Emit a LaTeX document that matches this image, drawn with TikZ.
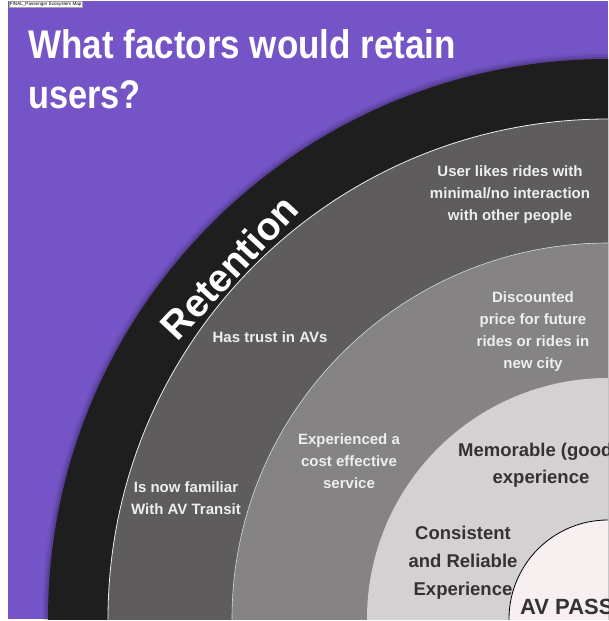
\documentclass[tikz,border=0pt]{standalone}
\usepackage{fontspec}
\setmainfont{Liberation Sans}
\definecolor{bgpurple}{RGB}{116,84,198}
\definecolor{ringblack}{RGB}{30,30,30}
\definecolor{ringdark}{RGB}{94,92,93}
\definecolor{ringmid}{RGB}{133,131,132}
\definecolor{ringlight}{RGB}{211,209,210}
\definecolor{corepink}{RGB}{247,239,240}
\definecolor{lighttext}{RGB}{238,238,238}
\definecolor{darktext}{RGB}{52,50,51}
\begin{document}
\begin{tikzpicture}[x=1pt,y=-1pt,
  lbl/.style={font=\bfseries\fontsize{15}{22}\selectfont, text=lighttext, align=center, inner sep=0pt},
  dlbl/.style={font=\bfseries\fontsize{18.5}{28}\selectfont, text=darktext, align=center, inner sep=0pt},
  titletext/.style={font=\bfseries\fontsize{40}{46}\selectfont, text=white, anchor=base west, inner sep=0pt},
]
\useasboundingbox (0,0) rectangle (609,621);
\coordinate (hub) at (608,619);
% panel background
\fill[bgpurple] (8,1) rectangle (608,619);
\begin{scope}
  \clip (8,1) rectangle (608,619);
  % soft edge of the outer ring
  \foreach \w/\o in {6/0.05,4/0.08,2/0.12}
    \fill[black, opacity=\o] (hub) circle[radius=560+\w];
  % concentric rings around the lower right corner
  \fill[ringblack] (hub) circle[radius=560];
  \fill[ringdark] (hub) circle[radius=500];
  \draw[white!85!gray, line width=0.8pt] (hub) circle[radius=500];
  \fill[ringmid] (hub) circle[radius=376];
  \draw[white!70!gray, line width=0.6pt] (hub) circle[radius=376];
  \fill[ringlight] (hub) circle[radius=241];
  \fill[corepink] (hub) circle[radius=99];
  \draw[black, line width=0.8pt] (hub) circle[radius=99];
  % labels that run off the panel edge
  \node[dlbl, anchor=west] (memorable) at (458,452) {Memorable (good};
  \node[font=\bfseries\fontsize{22}{26}\selectfont, text=darktext, inner sep=0pt, anchor=west] (core) at (520,607) {AV PASS};
\end{scope}
% heading
\node[titletext] (headA) at (28,58) {\scalebox{0.875}[1]{What factors would retain}};
\node[titletext] (headB) at (28,108) {\scalebox{0.86}[1]{users?}};
% ring title
\node[rotate=47, font=\bfseries\fontsize{39}{39}\selectfont, text=white, inner sep=0pt] (retention) at (229,267) {Retention};
% outer ring
\node[lbl] (solo) at (510,195) {User likes rides with\\minimal/no interaction\\with other people};
\node[lbl] (trust) at (270,337) {Has trust in AVs};
\node[lbl] (familiar) at (186,498) {Is now familiar\\With AV Transit};
% middle ring
\node[lbl] (discount) at (533,332) {Discounted\\price for future\\rides or rides in\\new city};
\node[lbl] (costeff) at (349,461) {Experienced a\\cost effective\\service};
% inner ring
\node[dlbl] (experience) at (541,479) {experience};
\node[dlbl] (reliable) at (463,563) {Consistent\\and Reliable\\Experience};
% file tag
\node[draw=gray!70, fill=white, inner sep=0.7pt, anchor=north west, font=\fontsize{4.6}{5}\selectfont] (tag) at (9,1) {FINAL\_Passenger Ecosystem Map};
\end{tikzpicture}
\end{document}
